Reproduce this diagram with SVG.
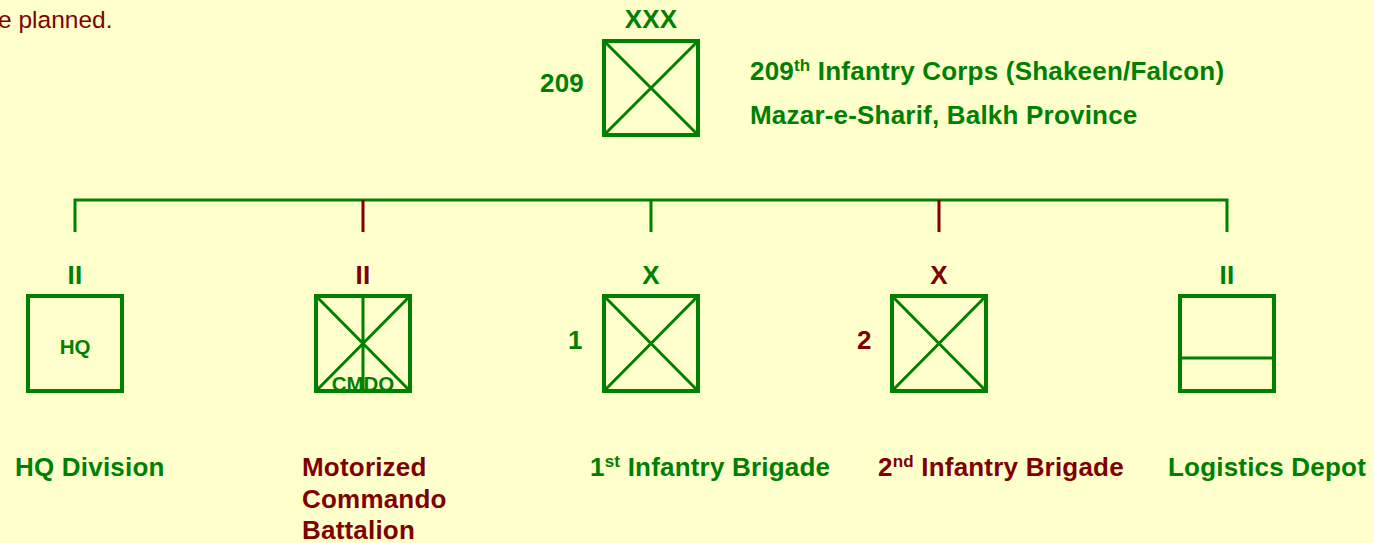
<svg xmlns="http://www.w3.org/2000/svg" width="1374" height="543" viewBox="0 0 1374 543">
<style>
.bg{fill:#FFFFCC}
.box{fill:none;stroke:#008000;stroke-width:4}
.x{stroke:#008000;stroke-width:3;fill:none}
.g{fill:#008000}
.r{fill:#800000}
.t{font-family:"Liberation Sans",Arial,sans-serif;font-weight:bold;font-size:26px;letter-spacing:0.2px}
.s{font-family:"Liberation Sans",Arial,sans-serif;font-weight:bold;font-size:20.5px}
.c{text-anchor:middle}
.sup{font-size:17px}
.cg{stroke:#008000;stroke-width:3;fill:none}
.cr{stroke:#800000;stroke-width:3;fill:none}
</style>
<rect class="bg" x="0" y="0" width="1374" height="543"/>
<text x="-2" y="28" class="r" style="font-family:'Liberation Sans',Arial,sans-serif;font-size:24.5px">e planned.</text>

<g id="corps">
<rect class="box" x="604" y="41" width="94" height="94"/>
<path class="x" d="M604 41L698 135M698 41L604 135"/>
<text class="t g c" x="651" y="28">XXX</text>
<text class="t g" x="540" y="92">209</text>
<text class="t g" x="750" y="80">209<tspan class="sup" dy="-9">th</tspan><tspan dy="9"> Infantry Corps (Shakeen/Falcon)</tspan></text>
<text class="t g" x="750" y="124">Mazar-e-Sharif, Balkh Province</text>
</g>

<g id="connectors">
<path class="cg" d="M75 232V200H1227V232M651 200V232"/>
<path class="cr" d="M363 200V232M939 200V232"/>
</g>

<g id="hq">
<text class="t g c" x="75" y="284">II</text>
<rect class="box" x="28" y="296" width="94" height="95"/>
<text class="s g c" x="75" y="354">HQ</text>
<text class="t g" x="15" y="476">HQ Division</text>
</g>

<g id="commando">
<text class="t r c" x="363" y="284">II</text>
<rect class="box" x="316" y="296" width="94" height="95"/>
<path class="x" d="M316 296L410 391M410 296L316 391M363 296V391"/>
<text class="s g c" x="363" y="391">CMDO</text>
<text class="t r" x="302" y="476">Motorized</text>
<text class="t r" x="302" y="508">Commando</text>
<text class="t r" x="302" y="539">Battalion</text>
</g>

<g id="brigade1">
<text class="t g c" x="651" y="284">X</text>
<rect class="box" x="604" y="296" width="94" height="95"/>
<path class="x" d="M604 296L698 391M698 296L604 391"/>
<text class="t g" x="568" y="349">1</text>
<text class="t g" x="590" y="476">1<tspan class="sup" dy="-9">st</tspan><tspan dy="9"> Infantry Brigade</tspan></text>
</g>

<g id="brigade2">
<text class="t r c" x="939" y="284">X</text>
<rect class="box" x="892" y="296" width="94" height="95"/>
<path class="x" d="M892 296L986 391M986 296L892 391"/>
<text class="t r" x="857" y="349">2</text>
<text class="t r" x="878" y="476">2<tspan class="sup" dy="-9">nd</tspan><tspan dy="9"> Infantry Brigade</tspan></text>
</g>

<g id="logistics">
<text class="t g c" x="1227" y="284">II</text>
<rect class="box" x="1180" y="296" width="94" height="95"/>
<path class="x" d="M1180 358H1274"/>
<text class="t g" x="1168" y="476">Logistics Depot</text>
</g>
</svg>
